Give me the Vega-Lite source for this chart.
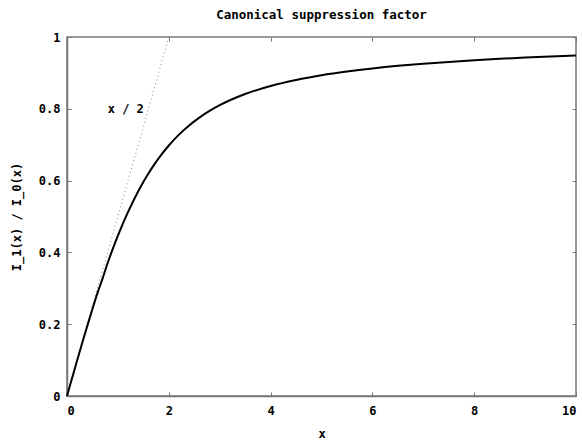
{
  "$schema": "https://vega.github.io/schema/vega-lite/v6.json",
  "width": 509,
  "height": 359,
  "autosize": "none",
  "padding": {"left": 67, "top": 37, "right": 6, "bottom": 44},
  "background": "white",
  "title": {
    "text": "Canonical suppression factor",
    "font": "DejaVu Sans Mono",
    "fontSize": 12.5,
    "fontWeight": "bold",
    "color": "#000000",
    "offset": 10,
    "anchor": "middle"
  },
  "config": {
    "view": {"stroke": "#777777", "strokeWidth": 1.5},
    "axis": {
      "labelFont": "DejaVu Sans Mono",
      "labelFontSize": 12,
      "labelFontWeight": "bold",
      "labelColor": "#000000",
      "titleFont": "DejaVu Sans Mono",
      "titleFontSize": 12,
      "titleFontWeight": "bold",
      "titleColor": "#000000",
      "grid": false,
      "domainColor": "#777777",
      "domainWidth": 1.5,
      "tickColor": "#777777",
      "tickSize": -4,
      "tickWidth": 1
    }
  },
  "datasets": {
    "ratio": [
      {"x": 0, "y": 0},
      {"x": 0.1, "y": 0.0499},
      {"x": 0.2, "y": 0.0995},
      {"x": 0.3, "y": 0.1483},
      {"x": 0.4, "y": 0.196},
      {"x": 0.5, "y": 0.2425},
      {"x": 0.6, "y": 0.2873},
      {"x": 0.7, "y": 0.3275},
      {"x": 0.8, "y": 0.3711},
      {"x": 0.9, "y": 0.4098},
      {"x": 1.0, "y": 0.4464},
      {"x": 1.1, "y": 0.4807},
      {"x": 1.2, "y": 0.5128},
      {"x": 1.3, "y": 0.5426},
      {"x": 1.4, "y": 0.5704},
      {"x": 1.5, "y": 0.5962},
      {"x": 1.6, "y": 0.6199},
      {"x": 1.7, "y": 0.6418},
      {"x": 1.8, "y": 0.662},
      {"x": 2.0, "y": 0.6978},
      {"x": 2.2, "y": 0.7281},
      {"x": 2.4, "y": 0.7536},
      {"x": 2.6, "y": 0.7753},
      {"x": 2.8, "y": 0.794},
      {"x": 3.0, "y": 0.81},
      {"x": 3.2, "y": 0.8238},
      {"x": 3.5, "y": 0.8411},
      {"x": 4.0, "y": 0.8635},
      {"x": 4.5, "y": 0.8803},
      {"x": 5.0, "y": 0.8934},
      {"x": 5.5, "y": 0.9038},
      {"x": 6.0, "y": 0.9124},
      {"x": 6.5, "y": 0.9196},
      {"x": 7.0, "y": 0.9255},
      {"x": 7.5, "y": 0.9307},
      {"x": 8.0, "y": 0.9352},
      {"x": 8.5, "y": 0.9392},
      {"x": 9.0, "y": 0.9427},
      {"x": 9.5, "y": 0.9458},
      {"x": 10.0, "y": 0.9486}
    ],
    "halfx": [
      {"x": 0, "y": 0},
      {"x": 2, "y": 1}
    ],
    "note": [
      {"x": 0.8, "y": 0.8, "label": "x / 2"}
    ]
  },
  "resolve": {"axis": {"x": "independent", "y": "independent"}},
  "layer": [
    {
      "data": {"name": "halfx"},
      "mark": {"type": "line", "color": "#888888", "strokeWidth": 1, "strokeDash": [1, 3], "clip": true},
      "encoding": {
        "x": {"field": "x", "type": "quantitative", "scale": {"domain": [0, 10], "nice": false},
          "axis": {"orient": "bottom", "values": [0, 2, 4, 6, 8, 10], "title": "x", "labelPadding": 13, "titlePadding": 12}},
        "y": {"field": "y", "type": "quantitative", "scale": {"domain": [0, 1], "nice": false},
          "axis": {"orient": "left", "values": [0, 0.2, 0.4, 0.6, 0.8, 1], "title": "I_1(x) / I_0(x)", "labelPadding": 11, "titlePadding": 15,
            "labelExpr": "datum.value == 0 ? '0' : datum.value == 1 ? '1' : format(datum.value, '.1f')"}}
      }
    },
    {
      "data": {"name": "ratio"},
      "mark": {"type": "line", "color": "#000000", "strokeWidth": 2, "interpolate": "monotone"},
      "encoding": {
        "x": {"field": "x", "type": "quantitative",
          "axis": {"orient": "top", "values": [0, 2, 4, 6, 8, 10], "labels": false, "title": null, "domain": false}},
        "y": {"field": "y", "type": "quantitative",
          "axis": {"orient": "right", "values": [0, 0.2, 0.4, 0.6, 0.8, 1], "labels": false, "title": null, "domain": false}}
      }
    },
    {
      "data": {"name": "note"},
      "mark": {"type": "text", "align": "left", "baseline": "middle", "font": "DejaVu Sans Mono", "fontSize": 12, "fontWeight": "bold", "color": "#000000"},
      "encoding": {
        "x": {"field": "x", "type": "quantitative", "axis": null},
        "y": {"field": "y", "type": "quantitative", "axis": null},
        "text": {"field": "label"}
      }
    }
  ]
}
